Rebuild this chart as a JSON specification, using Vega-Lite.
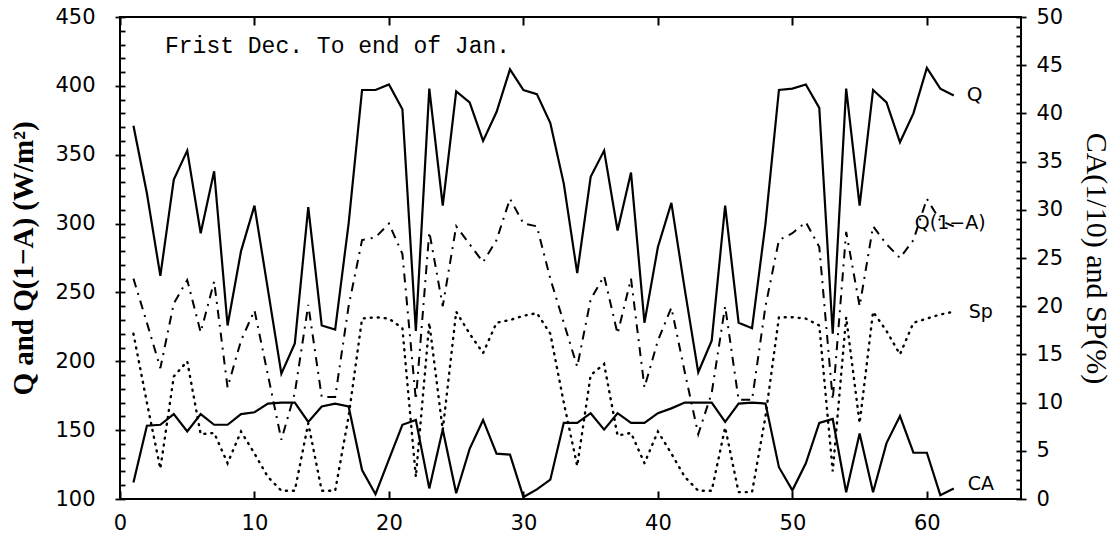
{
  "$schema": "https://vega.github.io/schema/vega-lite/v6.json",
  "width": 901,
  "height": 482,
  "autosize": "none",
  "padding": {"left": 120, "top": 17, "right": 96, "bottom": 34},
  "background": "white",
  "config": {
    "view": {"stroke": "black", "strokeWidth": 2},
    "axis": {"labelFont": "DejaVu Sans", "labelFontSize": 21, "labelColor": "black", "domain": false, "tickColor": "black", "tickWidth": 1.8, "grid": false, "labelFlush": false}
  },
  "title": {"text": "Frist Dec. To end of Jan.", "anchor": "start", "frame": "group", "dx": 45, "offset": -70, "baseline": "alphabetic", "font": "Liberation Mono", "fontSize": 23, "fontWeight": "normal", "color": "black"},
  "data": {"values": [
    {"d":1,"Q":371,"QA":260,"Sp":220,"CA":1.7},
    {"d":2,"Q":322,"QA":228,"Sp":170,"CA":7.6},
    {"d":3,"Q":262,"QA":195,"Sp":122,"CA":7.7},
    {"d":4,"Q":332,"QA":242,"Sp":189,"CA":8.8},
    {"d":5,"Q":353,"QA":259,"Sp":200,"CA":7.0},
    {"d":6,"Q":293,"QA":221,"Sp":147,"CA":8.8},
    {"d":7,"Q":338,"QA":258,"Sp":148,"CA":7.7},
    {"d":8,"Q":226,"QA":181,"Sp":126,"CA":7.7},
    {"d":9,"Q":280,"QA":215,"Sp":149,"CA":8.8},
    {"d":10,"Q":313,"QA":237,"Sp":133,"CA":9.0},
    {"d":11,"Q":252,"QA":190,"Sp":116,"CA":9.9},
    {"d":12,"Q":191,"QA":143,"Sp":106,"CA":10.0},
    {"d":13,"Q":213,"QA":177,"Sp":106,"CA":10.0},
    {"d":14,"Q":312,"QA":241,"Sp":155,"CA":8.0},
    {"d":15,"Q":226,"QA":174,"Sp":106,"CA":9.6},
    {"d":16,"Q":223,"QA":174,"Sp":106,"CA":9.9},
    {"d":17,"Q":300,"QA":240,"Sp":160,"CA":9.6},
    {"d":18,"Q":397,"QA":288,"Sp":231,"CA":3.0},
    {"d":19,"Q":397,"QA":290,"Sp":232,"CA":0.5},
    {"d":20,"Q":401,"QA":300,"Sp":231,"CA":4.1},
    {"d":21,"Q":383,"QA":278,"Sp":224,"CA":7.7},
    {"d":22,"Q":222,"QA":172,"Sp":116,"CA":8.2},
    {"d":23,"Q":398,"QA":294,"Sp":228,"CA":1.1},
    {"d":24,"Q":313,"QA":240,"Sp":150,"CA":7.2},
    {"d":25,"Q":396,"QA":298,"Sp":236,"CA":0.6},
    {"d":26,"Q":388,"QA":285,"Sp":220,"CA":5.2},
    {"d":27,"Q":360,"QA":272,"Sp":206,"CA":8.2},
    {"d":28,"Q":381,"QA":288,"Sp":228,"CA":4.7},
    {"d":29,"Q":412,"QA":318,"Sp":230,"CA":4.6},
    {"d":30,"Q":397,"QA":300,"Sp":233,"CA":0.2},
    {"d":31,"Q":394,"QA":298,"Sp":235,"CA":1.0},
    {"d":32,"Q":373,"QA":260,"Sp":220,"CA":2.0},
    {"d":33,"Q":329,"QA":228,"Sp":170,"CA":7.9},
    {"d":34,"Q":264,"QA":196,"Sp":124,"CA":7.9},
    {"d":35,"Q":334,"QA":245,"Sp":190,"CA":8.9},
    {"d":36,"Q":353,"QA":262,"Sp":198,"CA":7.2},
    {"d":37,"Q":295,"QA":220,"Sp":146,"CA":8.9},
    {"d":38,"Q":337,"QA":260,"Sp":148,"CA":7.9},
    {"d":39,"Q":228,"QA":181,"Sp":126,"CA":7.9},
    {"d":40,"Q":283,"QA":215,"Sp":149,"CA":8.9},
    {"d":41,"Q":315,"QA":239,"Sp":133,"CA":9.4},
    {"d":42,"Q":252,"QA":192,"Sp":116,"CA":10.0},
    {"d":43,"Q":192,"QA":147,"Sp":106,"CA":10.0},
    {"d":44,"Q":215,"QA":177,"Sp":106,"CA":10.0},
    {"d":45,"Q":313,"QA":240,"Sp":152,"CA":8.0},
    {"d":46,"Q":228,"QA":172,"Sp":105,"CA":9.9},
    {"d":47,"Q":224,"QA":172,"Sp":105,"CA":10.0},
    {"d":48,"Q":300,"QA":240,"Sp":160,"CA":9.9},
    {"d":49,"Q":397,"QA":288,"Sp":232,"CA":3.3},
    {"d":50,"Q":398,"QA":293,"Sp":232,"CA":0.9},
    {"d":51,"Q":401,"QA":301,"Sp":231,"CA":3.7},
    {"d":52,"Q":384,"QA":283,"Sp":226,"CA":7.9},
    {"d":53,"Q":220,"QA":172,"Sp":120,"CA":8.3},
    {"d":54,"Q":398,"QA":294,"Sp":232,"CA":0.7},
    {"d":55,"Q":313,"QA":240,"Sp":155,"CA":6.8},
    {"d":56,"Q":397,"QA":298,"Sp":236,"CA":0.7},
    {"d":57,"Q":388,"QA":285,"Sp":222,"CA":5.8},
    {"d":58,"Q":359,"QA":275,"Sp":205,"CA":8.6},
    {"d":59,"Q":380,"QA":288,"Sp":228,"CA":4.8},
    {"d":60,"Q":413,"QA":318,"Sp":231,"CA":4.8},
    {"d":61,"Q":398,"QA":302,"Sp":234,"CA":0.4},
    {"d":62,"Q":393,"QA":298,"Sp":236,"CA":1.1}
  ]},
  "layer": [
    {
      "layer": [
        {
          "mark": {"type": "line", "color": "black", "strokeWidth": 2.2},
          "encoding": {
            "x": {"field": "d", "type": "quantitative", "scale": {"domain": [0, 67], "nice": false},
              "axis": {"orient": "bottom", "title": null, "values": [0,10,20,30,40,50,60], "tickCount": 7, "ticks": true, "tickOpacity": 1, "offset": -8, "tickSize": 8, "tickWidth": 2, "labelPadding": 13, "zindex": 2}},
            "y": {"field": "Q", "type": "quantitative", "scale": {"domain": [100, 450], "nice": false, "zero": false},
              "axis": {"orient": "left", "title": "Q and Q(1−A) (W/m²)", "titleFont": "Liberation Serif", "titleFontSize": 29, "titleFontWeight": "bold", "titleColor": "black", "titlePadding": 16,
                "values": [100,110,120,130,140,150,160,170,180,190,200,210,220,230,240,250,260,270,280,290,300,310,320,330,340,350,360,370,380,390,400,410,420,430,440,450],
                "tickCount": 100, "format": "d",
                "labelExpr": "datum.value % 50 === 0 ? datum.label : ''",
                "labelOverlap": false,
                "offset": -5,
                "tickSize": {"condition": {"test": "datum.value % 50 === 0", "value": 10}, "value": 5},
                "labelPadding": 20, "zindex": 2}}
          }
        },
        {
          "mark": {"type": "line", "color": "black", "strokeWidth": 2, "strokeDash": [9, 6, 2, 6]},
          "encoding": {
            "x": {"field": "d", "type": "quantitative"},
            "y": {"field": "QA", "type": "quantitative"}
          }
        },
        {
          "mark": {"type": "line", "color": "black", "strokeWidth": 2.4, "strokeDash": [1, 6], "strokeCap": "round"},
          "encoding": {
            "x": {"field": "d", "type": "quantitative"},
            "y": {"field": "Sp", "type": "quantitative"}
          }
        },
        {
          "transform": [{"filter": "datum.d === 62"}],
          "mark": {"type": "text", "text": "Q", "align": "left", "baseline": "middle", "dx": 13, "font": "DejaVu Sans", "fontSize": 20, "color": "black"},
          "encoding": {"x": {"field": "d", "type": "quantitative"}, "y": {"field": "Q", "type": "quantitative"}}
        },
        {
          "transform": [{"filter": "datum.d === 62"}],
          "mark": {"type": "text", "text": "Q(1−A)", "align": "left", "baseline": "middle", "dx": -39, "dy": -3, "font": "DejaVu Sans", "fontSize": 19, "color": "black"},
          "encoding": {"x": {"field": "d", "type": "quantitative"}, "y": {"field": "QA", "type": "quantitative"}}
        },
        {
          "transform": [{"filter": "datum.d === 62"}],
          "mark": {"type": "text", "text": "Sp", "align": "left", "baseline": "middle", "dx": 15, "font": "DejaVu Sans", "fontSize": 19, "color": "black"},
          "encoding": {"x": {"field": "d", "type": "quantitative"}, "y": {"field": "Sp", "type": "quantitative"}}
        }
      ]
    },
    {
      "layer": [
        {
          "mark": {"type": "line", "color": "black", "strokeWidth": 2.2},
          "encoding": {
            "x": {"field": "d", "type": "quantitative",
              "axis": {"orient": "top", "title": null, "labels": false, "values": [0,10,20,30,40,50,60], "tickCount": 7, "ticks": true, "tickOpacity": 1, "offset": -8, "tickSize": 8, "tickWidth": 2, "zindex": 2}},
            "y": {"field": "CA", "type": "quantitative", "scale": {"domain": [0, 50], "nice": false},
              "axis": {"orient": "right", "title": "CA(1/10) and SP(%)", "titleFont": "Liberation Serif", "titleFontSize": 30, "titleFontWeight": "normal", "titleColor": "black", "titleAngle": 90, "titlePadding": 18,
                "values": [0,1,2,3,4,5,6,7,8,9,10,11,12,13,14,15,16,17,18,19,20,21,22,23,24,25,26,27,28,29,30,31,32,33,34,35,36,37,38,39,40,41,42,43,44,45,46,47,48,49,50],
                "tickCount": 100, "format": "d",
                "labelExpr": "datum.value % 5 === 0 ? datum.label : ''",
                "labelOverlap": false,
                "offset": -5,
                "tickSize": {"condition": {"test": "datum.value % 5 === 0", "value": 10}, "value": 5},
                "labelPadding": 10, "zindex": 2}}
          }
        },
        {
          "transform": [{"filter": "datum.d === 62"}],
          "mark": {"type": "text", "text": "CA", "align": "left", "baseline": "middle", "dx": 14, "dy": -4, "font": "DejaVu Sans", "fontSize": 19, "color": "black"},
          "encoding": {"x": {"field": "d", "type": "quantitative"}, "y": {"field": "CA", "type": "quantitative"}}
        }
      ]
    }
  ],
  "resolve": {"scale": {"y": "independent"}, "axis": {"x": "independent"}}
}
